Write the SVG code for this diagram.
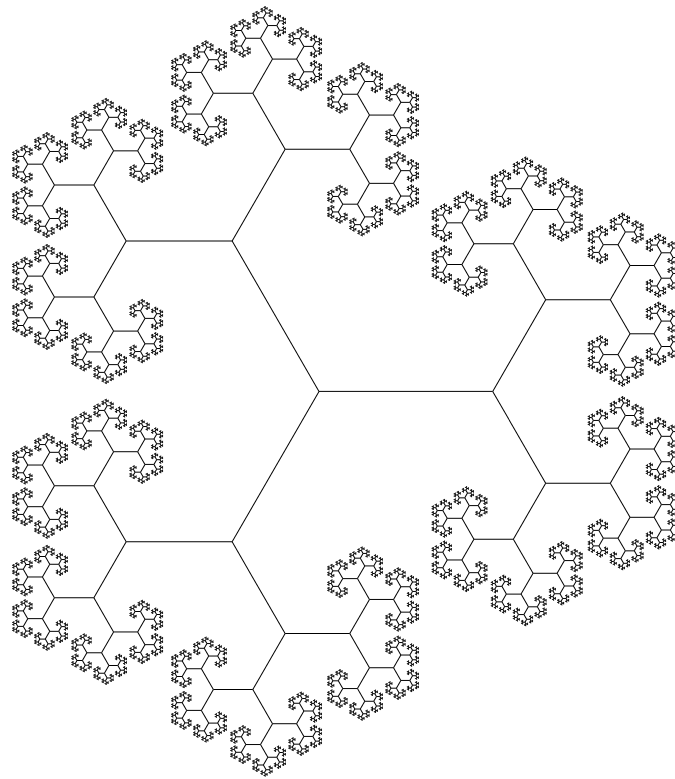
<svg xmlns="http://www.w3.org/2000/svg" xmlns:xlink="http://www.w3.org/1999/xlink" width="675" height="779" viewBox="0 0 675 779">
<defs>
<style>line{stroke:#000;fill:none}</style>
<g id="c2"><line x1="0" y1="0" x2="1" y2="0" style="stroke-width:2.3"/></g>
<g id="c1"><line x1="0" y1="0" x2="1" y2="0" style="stroke-width:1.4"/><use href="#c2" transform="translate(1,0) rotate(-60) scale(0.61)"/><use href="#c2" transform="translate(1,0) rotate(60) scale(0.61)"/></g>
<g id="b0"><line x1="0" y1="0" x2="1" y2="0" style="stroke-width:0.85"/><use href="#c1" transform="translate(1,0) rotate(-60) scale(0.61)"/><use href="#c1" transform="translate(1,0) rotate(60) scale(0.61)"/></g>
<g id="b1"><line x1="0" y1="0" x2="1" y2="0" style="stroke-width:0.4923"/><use href="#b0" transform="translate(1,0) rotate(-60) scale(0.61)"/><use href="#b0" transform="translate(1,0) rotate(60) scale(0.61)"/></g>
<g id="b2"><line x1="0" y1="0" x2="1" y2="0" style="stroke-width:0.3003"/><use href="#b1" transform="translate(1,0) rotate(-60) scale(0.61)"/><use href="#b1" transform="translate(1,0) rotate(60) scale(0.61)"/></g>
<g id="b3"><line x1="0" y1="0" x2="1" y2="0" style="stroke-width:0.18319"/><use href="#b2" transform="translate(1,0) rotate(-60) scale(0.61)"/><use href="#b2" transform="translate(1,0) rotate(60) scale(0.61)"/></g>
<g id="b4"><line x1="0" y1="0" x2="1" y2="0" style="stroke-width:0.111744"/><use href="#b3" transform="translate(1,0) rotate(-60) scale(0.61)"/><use href="#b3" transform="translate(1,0) rotate(60) scale(0.61)"/></g>
<g id="b5"><line x1="0" y1="0" x2="1" y2="0" style="stroke-width:0.068164"/><use href="#b4" transform="translate(1,0) rotate(-60) scale(0.61)"/><use href="#b4" transform="translate(1,0) rotate(60) scale(0.61)"/></g>
<g id="b6"><line x1="0" y1="0" x2="1" y2="0" style="stroke-width:0.04158"/><use href="#b5" transform="translate(1,0) rotate(-60) scale(0.61)"/><use href="#b5" transform="translate(1,0) rotate(60) scale(0.61)"/></g>
<g id="b7"><line x1="0" y1="0" x2="1" y2="0" style="stroke-width:0.025364"/><use href="#b6" transform="translate(1,0) rotate(-60) scale(0.61)"/><use href="#b6" transform="translate(1,0) rotate(60) scale(0.61)"/></g>
<g id="b8"><line x1="0" y1="0" x2="1" y2="0" style="stroke-width:0.015472"/><use href="#b7" transform="translate(1,0) rotate(-60) scale(0.61)"/><use href="#b7" transform="translate(1,0) rotate(60) scale(0.61)"/></g>
<g id="b9"><line x1="0" y1="0" x2="1" y2="0" style="stroke-width:0.009438"/><use href="#b8" transform="translate(1,0) rotate(-60) scale(0.61)"/><use href="#b8" transform="translate(1,0) rotate(60) scale(0.61)"/></g>
<g id="b10"><line x1="0" y1="0" x2="1" y2="0" style="stroke-width:0.005757"/><use href="#b9" transform="translate(1,0) rotate(-60) scale(0.61)"/><use href="#b9" transform="translate(1,0) rotate(60) scale(0.61)"/></g>
</defs>
<rect width="675" height="779" fill="#fff"/>
<g id="tree" transform="translate(319,391.4) scale(173.7)">
<use href="#b10"/>
<use href="#b10" transform="rotate(-120)"/>
<use href="#b10" transform="rotate(120)"/>
</g>
</svg>
